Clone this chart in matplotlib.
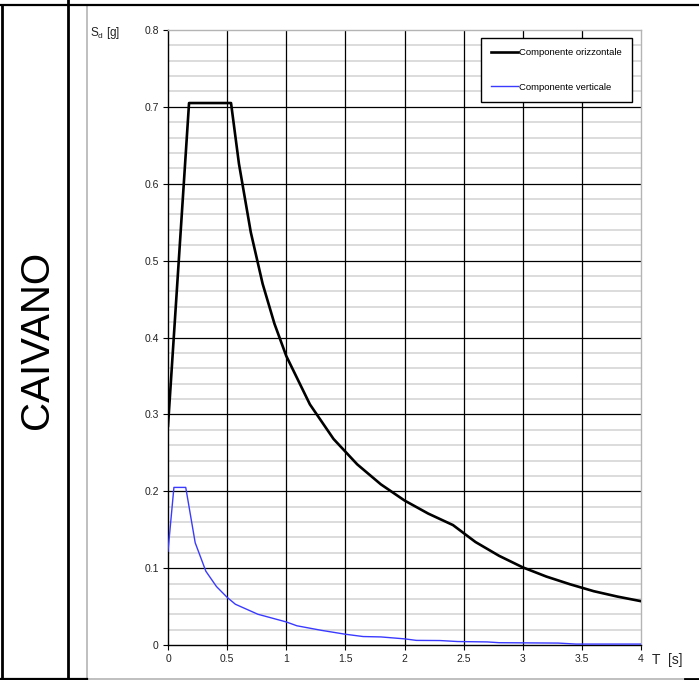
import matplotlib
matplotlib.use('Agg')
import matplotlib.pyplot as plt
from matplotlib.lines import Line2D
from matplotlib.patches import Rectangle
import numpy as np

plt.rcParams['font.family'] = ['Liberation Sans', 'DejaVu Sans']
plt.rcParams['mathtext.default'] = 'regular'

# spettro di progetto - componente orizzontale
T_oriz = [0.0, 0.178, 0.533, 0.6, 0.7, 0.8, 0.9, 1.0, 1.2, 1.4, 1.6, 1.8, 2.0,
          2.2, 2.41, 2.6, 2.8, 3.0, 3.2, 3.4, 3.6, 3.8, 4.0]
Sd_oriz = [0.285, 0.705, 0.705, 0.626, 0.537, 0.470, 0.418, 0.376, 0.313, 0.268,
           0.235, 0.209, 0.188, 0.171, 0.156, 0.134, 0.116, 0.101, 0.089, 0.079,
           0.070, 0.063, 0.057]

# componente verticale
T_vert = [0.0, 0.05, 0.15, 0.23, 0.32, 0.41, 0.5, 0.57, 0.76, 1.0, 1.09, 1.3,
          1.5, 1.65, 1.8, 2.0, 2.1, 2.3, 2.45, 2.7, 2.8, 3.3, 3.45, 4.0]
Sd_vert = [0.122, 0.205, 0.205, 0.133, 0.096, 0.076, 0.062, 0.053, 0.040, 0.030,
           0.025, 0.019, 0.014, 0.011, 0.0105, 0.008, 0.006, 0.0058, 0.0045,
           0.004, 0.003, 0.0025, 0.0012, 0.0012]

x_ticks = [0, 0.5, 1, 1.5, 2, 2.5, 3, 3.5, 4]
x_labels = ['0', '0.5', '1', '1.5', '2', '2.5', '3', '3.5', '4']
y_ticks = [0, 0.1, 0.2, 0.3, 0.4, 0.5, 0.6, 0.7, 0.8]
y_labels = ['0', '0.1', '0.2', '0.3', '0.4', '0.5', '0.6', '0.7', '0.8']
y_minor = np.arange(0.02, 0.8, 0.02)

W, H = 699, 680
fig = plt.figure(figsize=(W / 100, H / 100), dpi=100)


def fx(px):
    return px / W


def fy(py):
    return 1 - py / H


# bordo dell'area del grafico
fig.add_artist(Rectangle((fx(87), fy(678.5)), fx(699 - 87) + 0.01, (678.5 - 5) / H,
                         transform=fig.transFigure, facecolor='white',
                         edgecolor='#b4b4b4', lw=1.2, zorder=-5))

# cornice della tabella
for xs, ys, c, w in [((0, 699), (4.5, 4.5), 'black', 1.6),
                     ((1.5, 1.5), (4.5, 680), 'black', 2.0),
                     ((68, 68), (0, 680), 'black', 2.0),
                     ((0, 87), (678.5, 678.5), 'black', 1.6),
                     ((685, 699), (678.5, 678.5), 'black', 2.0)]:
    fig.add_artist(Line2D([fx(xs[0]), fx(xs[1])], [fy(ys[0]), fy(ys[1])],
                          transform=fig.transFigure, color=c, lw=w))

fig.text(fx(37), fy(340), 'CAIVANO', rotation=90, fontsize=29,
         ha='center', va='center', color='black')

ax = fig.add_axes([fx(168), fy(645), fx(641 - 168), (645 - 30) / H])
ax.set_xlim(0, 4)
ax.set_ylim(0, 0.8)
ax.patch.set_alpha(0)

for v in y_minor:
    if round(v * 10, 6) != round(v * 10):
        ax.axhline(v, color='#d2d2d2', lw=1.1, zorder=1)
for v in y_ticks[1:-1]:
    ax.axhline(v, color='black', lw=0.9, zorder=2)
for v in x_ticks[1:-1]:
    ax.axvline(v, color='black', lw=0.9, zorder=2)

ax.plot(T_oriz, Sd_oriz, color='black', lw=1.9, label='Componente orizzontale', zorder=4)
ax.plot(T_vert, Sd_vert, color='#3a3aff', lw=1.0, label='Componente verticale', zorder=4)

ax.set_xticks(x_ticks)
ax.set_xticklabels(x_labels)
ax.set_yticks(y_ticks)
ax.set_yticklabels(y_labels)
ax.tick_params(axis='both', direction='out', length=3.6, width=0.8,
               labelsize=7.5, labelcolor='#222222', colors='black')
ax.tick_params(axis='y', pad=3.0)
ax.tick_params(axis='x', pad=3)

for side in ('top', 'right'):
    ax.spines[side].set_color('#b4b4b4')
    ax.spines[side].set_linewidth(1.0)
for side in ('left', 'bottom'):
    ax.spines[side].set_color('black')
    ax.spines[side].set_linewidth(1.0)

fig.text(fx(90), fy(33), 'S$_d$ [g]', fontsize=8.5, ha='left', va='center', color='#222222')
fig.text(fx(652), fy(660), 'T  [s]', fontsize=10, ha='left', va='center', color='#222222')

leg = ax.legend(loc='upper left', bbox_to_anchor=((481 - 168) / 473, (645 - 37.7) / 615),
                borderaxespad=0, fontsize=6.8, frameon=True, fancybox=False,
                shadow=False, handlelength=2.8, handletextpad=0.15,
                labelspacing=2.7, borderpad=1.1)
leg.get_frame().set_edgecolor('black')
leg.get_frame().set_linewidth(1.0)
leg.get_frame().set_alpha(1.0)

fig.savefig('out.png', dpi=100)
